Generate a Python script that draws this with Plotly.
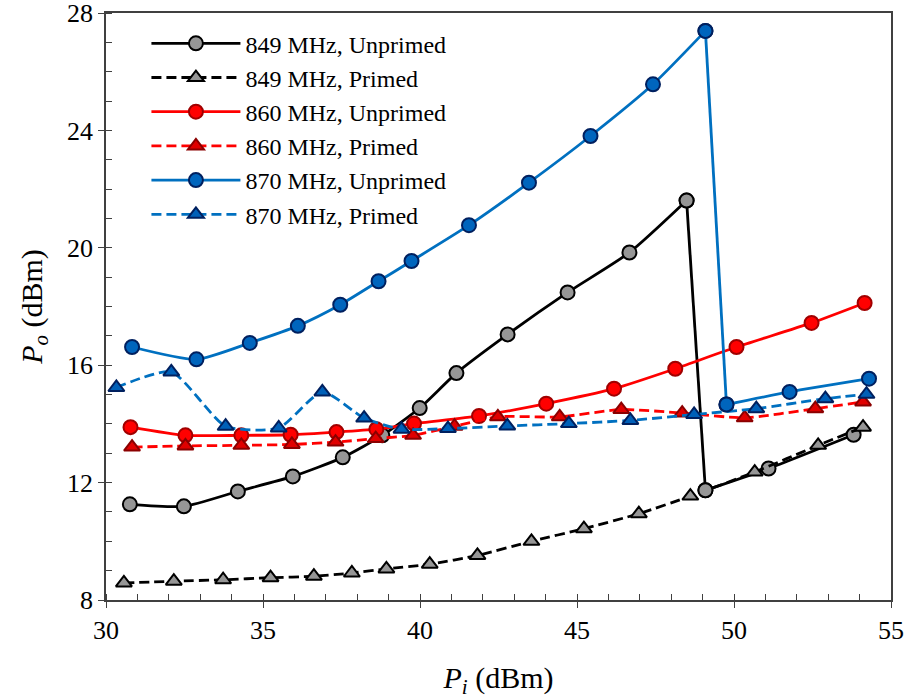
import plotly.graph_objects as go

# ---- data ----
x849u = [30.76, 32.48, 34.20, 35.95, 37.54, 38.80, 39.99, 41.16, 42.79, 44.70, 46.67, 48.49, 49.09, 51.10, 53.81]
y849u = [11.26, 11.19, 11.70, 12.21, 12.86, 13.61, 14.54, 15.73, 17.05, 18.48, 19.84, 21.61, 11.74, 12.48, 13.63]

x849p = [30.57, 32.16, 33.73, 35.24, 36.62, 37.83, 38.93, 40.31, 41.83, 43.55, 45.22, 46.97, 48.61, 50.66, 52.68, 54.11]
y849p = [8.58, 8.64, 8.69, 8.76, 8.81, 8.92, 9.06, 9.22, 9.52, 10.00, 10.43, 10.94, 11.54, 12.36, 13.27, 13.89]

x860u = [30.78, 32.53, 34.31, 35.88, 37.34, 38.61, 39.81, 41.88, 44.02, 46.18, 48.13, 50.08, 52.47, 54.16]
y860u = [13.89, 13.61, 13.61, 13.63, 13.72, 13.82, 14.01, 14.27, 14.69, 15.20, 15.88, 16.62, 17.44, 18.12]

x860p = [30.83, 32.53, 34.31, 35.92, 37.31, 38.59, 39.78, 41.10, 42.48, 44.45, 46.41, 48.35, 50.34, 52.59, 54.11]
y860p = [13.21, 13.25, 13.27, 13.30, 13.38, 13.50, 13.61, 13.92, 14.24, 14.24, 14.49, 14.37, 14.21, 14.52, 14.75]

x870u = [30.83, 32.88, 34.58, 36.11, 37.46, 38.68, 39.73, 41.56, 43.47, 45.43, 47.42, 49.09, 49.76, 51.77, 54.30]
y870u = [16.62, 16.20, 16.76, 17.34, 18.06, 18.86, 19.55, 20.77, 22.22, 23.81, 25.57, 27.39, 14.66, 15.09, 15.54]

x870p = [30.33, 32.08, 33.81, 35.50, 36.89, 38.22, 39.41, 40.89, 42.78, 44.74, 46.70, 48.73, 50.71, 52.91, 54.22]
y870p = [15.24, 15.77, 13.92, 13.86, 15.09, 14.20, 13.82, 13.84, 13.93, 14.01, 14.12, 14.32, 14.52, 14.86, 15.01]

x_ticks = [30, 35, 40, 45, 50, 55]
y_ticks = [8, 12, 16, 20, 24, 28]

FONT = "Liberation Serif"
SMOOTH = 0.6
AX = "#404040"

# (name, x, y, line colour, dashed, symbol, fill, outline, index of the last point before a sudden drop)
series = [
    ("849 MHz, Unprimed", x849u, y849u, "#000000", False, "circle", "#969696", "#000000", 11),
    ("849 MHz, Primed", x849p, y849p, "#000000", True, "triangle-up", "#969696", "#000000", None),
    ("860 MHz, Unprimed", x860u, y860u, "#FF0000", False, "circle", "#FF0000", "#A00000", None),
    ("860 MHz, Primed", x860p, y860p, "#FF0000", True, "triangle-up", "#E00000", "#8B0000", None),
    ("870 MHz, Unprimed", x870u, y870u, "#0070C0", False, "circle", "#0065BD", "#00205F", 11),
    ("870 MHz, Primed", x870p, y870p, "#0070C0", True, "triangle-up", "#0060B8", "#00205F", None),
]

LW = 2.8
fig = go.Figure()
for name, xs, ys, lc, dashed, sym, fc, oc, brk in series:
    line = dict(color=lc, width=LW, dash=("10px,5px" if dashed else "solid"),
                shape="spline", smoothing=SMOOTH)
    marker = dict(symbol=sym, size=(14 if sym == "circle" else 14), color=fc,
                  line=dict(color=oc, width=2))
    if brk is None:
        fig.add_trace(go.Scatter(x=xs, y=ys, name=name, mode="lines+markers",
                                 line=line, marker=marker, legendgroup=name))
    else:
        # smooth part before the drop (legend entry)
        fig.add_trace(go.Scatter(x=xs[:brk + 1], y=ys[:brk + 1], name=name, mode="lines+markers",
                                 line=line, marker=marker, legendgroup=name))
        # the sudden drop, straight
        fig.add_trace(go.Scatter(x=xs[brk:brk + 2], y=ys[brk:brk + 2], mode="lines",
                                 line=dict(color=lc, width=LW), showlegend=False,
                                 legendgroup=name, hoverinfo="skip"))
        # smooth part after the drop
        fig.add_trace(go.Scatter(x=xs[brk + 1:], y=ys[brk + 1:], mode="lines+markers",
                                 line=line, marker=marker, showlegend=False, legendgroup=name))

# redraw markers of drop points on top of the connector lines
for name, xs, ys, lc, dashed, sym, fc, oc, brk in series:
    if brk is not None:
        fig.add_trace(go.Scatter(x=xs[brk:brk + 2], y=ys[brk:brk + 2], mode="markers",
                                 marker=dict(symbol=sym, size=14, color=fc, line=dict(color=oc, width=2)),
                                 showlegend=False, hoverinfo="skip"))

axis_common = dict(
    showline=True, linecolor=AX, linewidth=1.5, mirror=True,
    ticks="outside", ticklen=6, tickwidth=1.3, tickcolor=AX,
    showgrid=False, zeroline=False, automargin=False, ticklabeloverflow="allow",
    tickfont=dict(family=FONT, size=26, color="#000000"),
)

fig.update_layout(
    width=906, height=700,
    margin=dict(l=106, r=15, t=13, b=100),
    paper_bgcolor="white", plot_bgcolor="white",
    font=dict(family=FONT, color="#000000"),
    showlegend=True,
    legend=dict(x=0.0515, y=0.986, xanchor="left", yanchor="top",
                font=dict(family=FONT, size=24, color="#000000"),
                bgcolor="rgba(0,0,0,0)", itemwidth=89, tracegroupgap=0),
    xaxis=dict(range=[30, 55], tickvals=x_ticks, ticktext=[str(v) for v in x_ticks],
               minor=dict(ticks="inside", dtick=1, ticklen=6, tickwidth=1.3, tickcolor=AX),
               title=dict(text="<i>P</i><sub><i>i</i></sub> (dBm)", font=dict(family=FONT, size=30), standoff=23),
               **axis_common),
    yaxis=dict(range=[8, 28], tickvals=y_ticks, ticktext=[str(v) for v in y_ticks],
               minor=dict(ticks="inside", dtick=1, ticklen=6, tickwidth=1.3, tickcolor=AX),
               title=dict(text="<i>P</i><sub><i>o</i></sub> (dBm)", font=dict(family=FONT, size=30), standoff=16),
               **axis_common),
    xaxis2=dict(range=[30, 55], overlaying="x", tickvals=x_ticks, showticklabels=False,
                ticks="inside", ticklen=6, tickwidth=1.3, tickcolor=AX, automargin=False,
                showline=False, showgrid=False, zeroline=False, side="bottom"),
    yaxis2=dict(range=[8, 28], overlaying="y", tickvals=y_ticks, showticklabels=False,
                ticks="inside", ticklen=6, tickwidth=1.3, tickcolor=AX, automargin=False,
                showline=False, showgrid=False, zeroline=False, side="left"),
)

fig.write_html("out.html")
